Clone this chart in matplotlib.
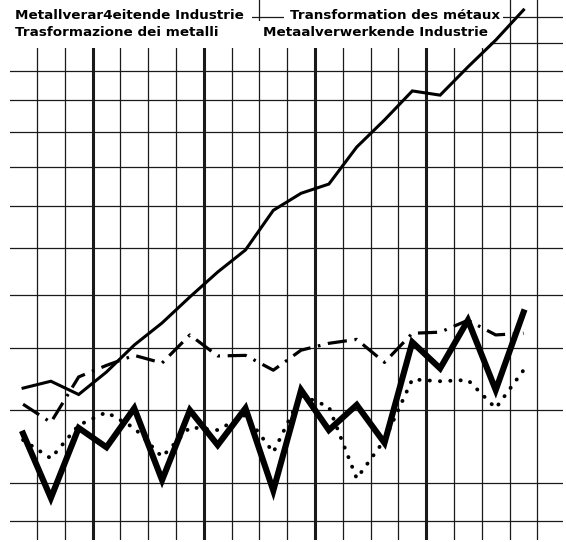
import matplotlib
matplotlib.use("Agg")
import matplotlib.pyplot as plt
from matplotlib.patches import Rectangle

plt.rcParams.update({
    "font.family": ["DejaVu Sans"],
    "font.weight": "bold",
})

# quarterly index values, log scale
quarters = list(range(19))
rising = [63.4, 64.5, 62.4, 66.0, 70.6, 74.6, 79.6, 84.7, 89.5, 98.8,
          103.1, 105.5, 115.7, 123.8, 133.1, 131.7, 141.3, 151.1, 162.9]
dashdot = [60.9, 58.2, 65.2, 67.1, 68.8, 67.5, 72.4, 68.7, 68.8, 66.3,
           69.7, 70.9, 71.6, 67.6, 72.7, 72.9, 75.1, 72.4, 72.7]
dotted = [55.7, 53.2, 57.8, 59.7, 57.4, 53.4, 57.5, 57.1, 59.3, 54.0,
          62.3, 60.5, 50.6, 55.7, 64.8, 64.5, 64.7, 60.3, 66.3]
thick = [56.6, 48.2, 57.4, 54.7, 60.3, 50.4, 60.0, 55.0, 60.3, 49.1,
         63.1, 57.1, 60.8, 55.3, 71.1, 66.6, 75.1, 63.1, 76.6]

grid_values = [45.5, 50, 60, 70, 80, 90, 100, 110, 120, 130, 140, 150, 160]
year_breaks = [2, 6, 10, 14]

W, H = 566, 542
fig = plt.figure(figsize=(W / 100, H / 100), dpi=100)
ax = fig.add_axes([10 / W, 2 / H, 553 / W, 540 / H])
ax.set_yscale("log")
ax.set_ylim(43.4, 167.0)
ax.set_xlim(-0.47, 19.42)
ax.axis("off")

for v in grid_values:
    ax.axhline(v, color="#1a1a1a", linewidth=0.9, zorder=1)
for q in quarters:
    lw = 2.2 if q in year_breaks else 0.9
    ax.axvline(q + 0.5, color="#1a1a1a", linewidth=lw, zorder=1)


def px_rect(x0, y0, x1, y1):
    # white mask behind the title block, given in pixel coords of the page
    r = Rectangle((x0 / W, 1 - y1 / H), (x1 - x0) / W, (y1 - y0) / H,
                  transform=fig.transFigure, facecolor="white",
                  edgecolor="none", zorder=2, clip_on=False)
    ax.add_patch(r)


px_rect(0, 0, 252, 48)
px_rect(252, 21, 490, 48)
px_rect(284, 0, 503, 21)

ax.plot(quarters, rising, color="black", linewidth=2.2, zorder=3,
        solid_joinstyle="miter")
ax.plot(quarters, dashdot, color="black", linewidth=2.3, zorder=3,
        dashes=(6, 2.4, 0.8, 2.4))
ax.plot(quarters, dotted, color="black", linewidth=2.8, zorder=3,
        linestyle=(0, (0.05, 2.6)), dash_capstyle="round")
ax.plot(quarters, thick, color="black", linewidth=4.4, zorder=4,
        solid_joinstyle="miter")

fs = 9.7
fig.text(15 / W, 1 - 19 / H, "Metallverar4eitende Industrie", fontsize=fs,
         fontweight="bold", va="baseline", zorder=5)
fig.text(290 / W, 1 - 19 / H, "Transformation des métaux", fontsize=fs,
         fontweight="bold", va="baseline", zorder=5)
fig.text(15 / W, 1 - 36 / H, "Trasformazione dei metalli", fontsize=fs,
         fontweight="bold", va="baseline", zorder=5)
fig.text(263 / W, 1 - 36 / H, "Metaalverwerkende Industrie", fontsize=fs,
         fontweight="bold", va="baseline", zorder=5)

fig.savefig("out.png", dpi=100, facecolor="white")
